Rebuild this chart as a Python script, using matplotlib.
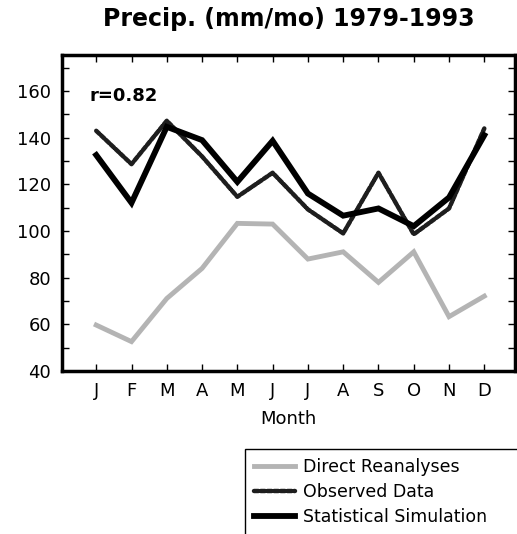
import matplotlib
matplotlib.use("Agg")
import matplotlib.pyplot as plt
from matplotlib.patches import Rectangle
import numpy as np

plt.rcParams['font.family'] = ['DejaVu Sans']

months = ["J", "F", "M", "A", "M", "J", "J", "A", "S", "O", "N", "D"]
reanalyses = [59.7, 52.6, 71.1, 84.0, 103.3, 103.0, 88.0, 91.1, 78.0, 91.1, 63.3, 72.1]
observed = [143.0, 128.7, 147.3, 132.0, 114.7, 125.0, 109.3, 99.0, 125.0, 98.6, 109.7, 144.0]
simulation = [132.6, 112.1, 144.7, 139.0, 121.1, 138.7, 116.1, 106.6, 109.7, 102.1, 114.4, 141.1]
yticks = [40, 60, 80, 100, 120, 140, 160]

fig = plt.figure(figsize=(5.17, 5.34), dpi=100)
ax = fig.add_axes([62/517, 1-371/534, (515-62)/517, (371-55)/534])

x = np.arange(1, 13)
l1, = ax.plot(x, reanalyses, color='#b4b4b4', lw=3.5, solid_joinstyle='miter',
              label='Direct Reanalyses')
l2, = ax.plot(x, observed, color='#1e1e1e', lw=3.2, linestyle=(0, (1.0, 0.5)),
              dash_capstyle='round', label='Observed Data')
l3, = ax.plot(x, simulation, color='black', lw=4.2, solid_joinstyle='miter',
              label='Statistical Simulation')

ax.set_xlim(0.03, 12.87)
ax.set_ylim(40, 175.5)
ax.set_xticks(x)
ax.set_xticklabels(months, fontsize=13)
ax.set_yticks(yticks)
ax.set_yticklabels([str(v) for v in yticks], fontsize=13)
ax.set_yticks(np.arange(50, 176, 20), minor=True)
ax.tick_params(axis='both', which='both', direction='in', top=True, right=True,
               length=5, width=1)
ax.tick_params(axis='x', pad=8)
ax.tick_params(axis='y', pad=8)
for s in ax.spines.values():
    s.set_linewidth(2.5)

ax.set_xlabel('Month', fontsize=13, labelpad=7)
ax.set_title('Precip. (mm/mo) 1979-1993', fontsize=17, fontweight='bold', pad=21)
ax.text(0.8, 158, 'r=0.82', fontsize=13, fontweight='bold', va='center', ha='left')

leg = fig.legend(handles=[l1, l2, l3], loc='upper left',
                 bbox_to_anchor=(245/517, 1-449/534), fontsize=12.5,
                 frameon=False,
                 handlelength=2.4, handletextpad=0.45, labelspacing=0.42,
                 borderpad=0.5, borderaxespad=0)
fig.add_artist(Rectangle((245/517, -0.05), 0.6, 1-449/534+0.05,
                         transform=fig.transFigure, fill=False,
                         edgecolor='black', linewidth=1.0))

fig.savefig('out.png', dpi=100)
